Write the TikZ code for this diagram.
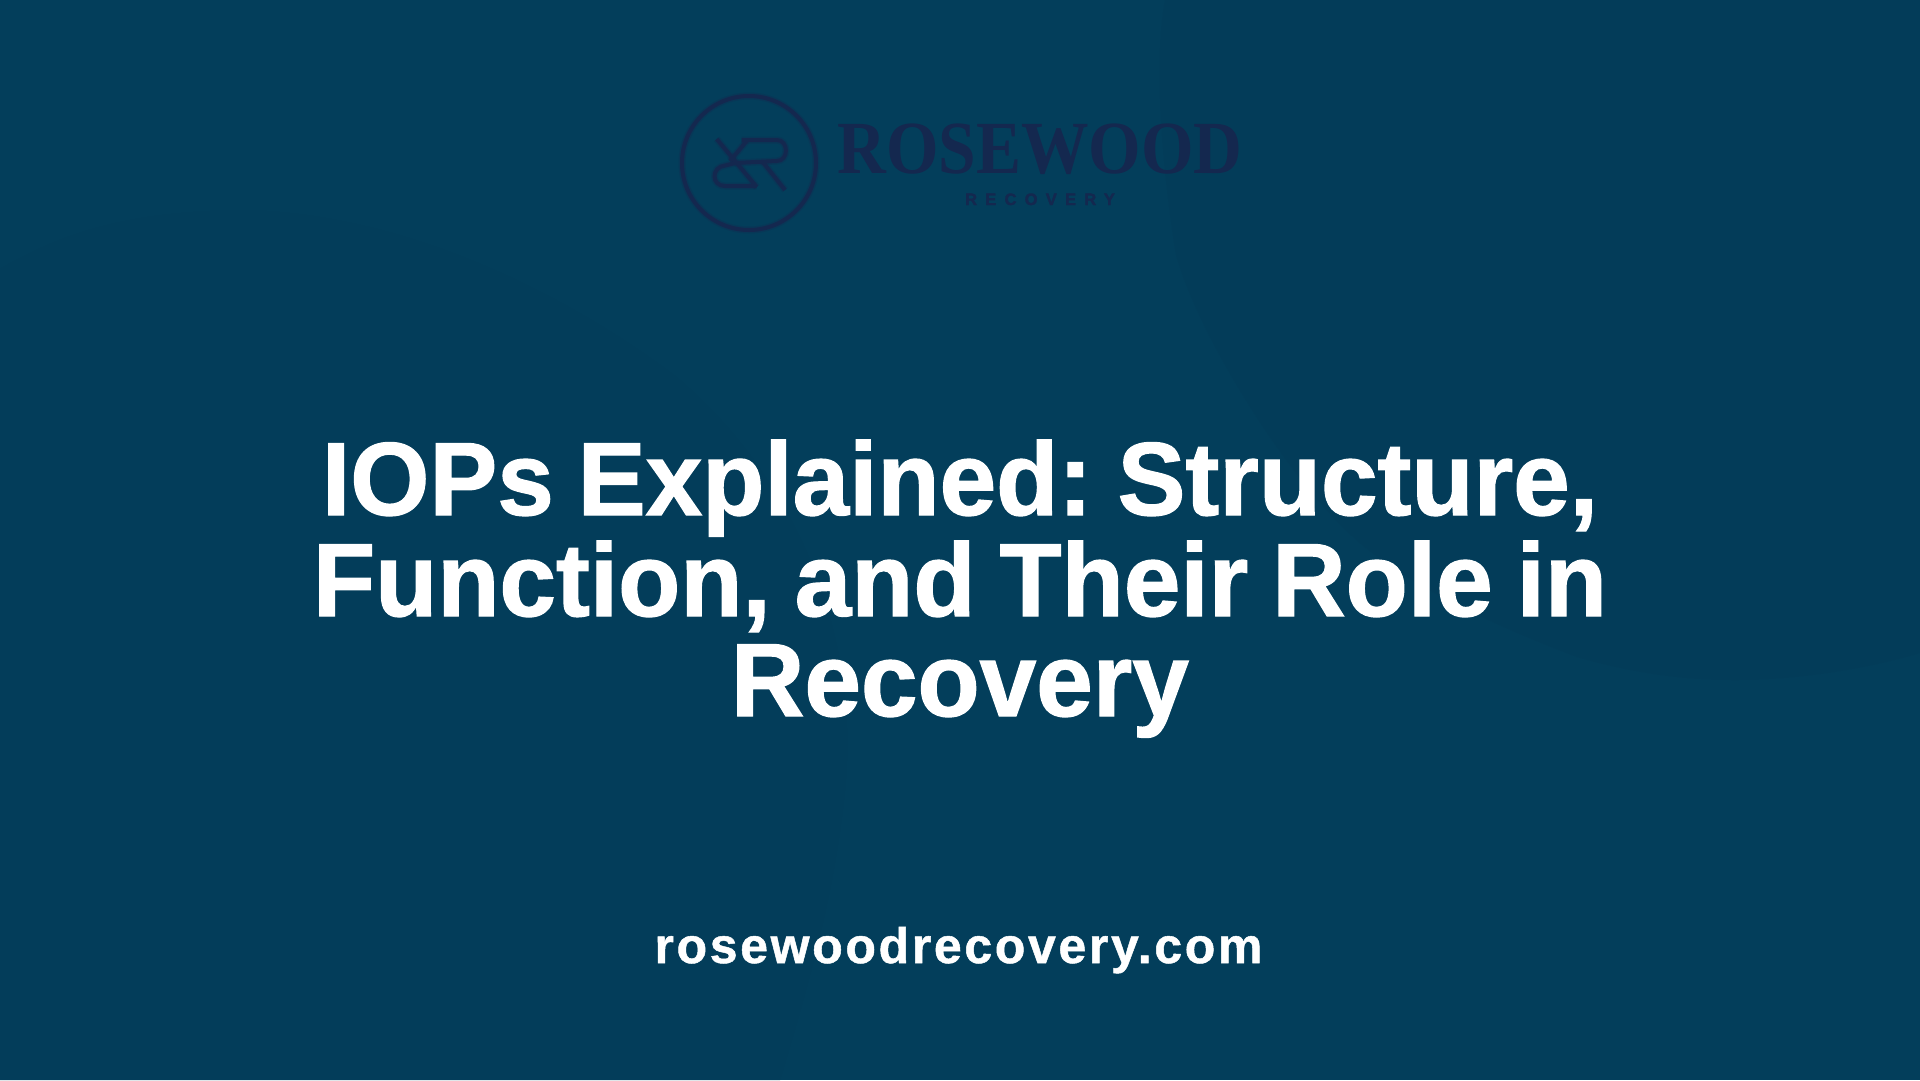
\documentclass[tikz,border=0pt]{standalone}
\usepackage{fontspec}
\setmainfont{Liberation Sans}
\newfontfamily\titlefont[FakeStretch=0.978,WordSpace=0.85,BoldFeatures={FakeBold=1.2}]{Liberation Sans}
\newfontfamily\urlfont[LetterSpace=5.3,BoldFeatures={FakeBold=1}]{Liberation Sans}
\newfontfamily\logofont[FakeStretch=0.9]{Liberation Serif}
\newfontfamily\subfont[LetterSpace=50,BoldFeatures={FakeBold=2}]{Liberation Sans}
\definecolor{bgmain}{HTML}{033E5B}
\definecolor{bgdark}{HTML}{033C59}
\definecolor{bglight}{HTML}{033D5A}
\definecolor{logonavy}{HTML}{14284F}
\tikzset{
  titleline/.style={text=white,inner sep=0pt,anchor=base,font=\titlefont\bfseries\fontsize{104}{104}\selectfont},
  logostroke/.style={draw=logonavy,line width=4pt,line cap=butt,line join=round},
  logohalo/.style={draw=logonavy,line width=7pt,line cap=butt,line join=round,opacity=0.3},
}
\begin{document}
\begin{tikzpicture}[x=1pt,y=-1pt]
\useasboundingbox (0,0) rectangle (1920,1080);
\fill[bgmain] (0,0) rectangle (1920,1080);
\fill[bglight] (0,269) .. controls (60,235) and (120,212) .. (240,210) .. controls (400,212) and (560,290) .. (674,375) .. controls (800,480) and (860,640) .. (845,790) .. controls (835,890) and (810,980) .. (780,1080) -- (0,1080) -- cycle;
\fill[bgdark] (1165,0) .. controls (1150,80) and (1170,220) .. (1176,255) .. controls (1200,340) and (1290,480) .. (1352,536) .. controls (1400,580) and (1480,620) .. (1577,657) .. controls (1640,675) and (1690,680) .. (1735,680) .. controls (1800,680) and (1870,668) .. (1920,653) -- (1920,0) -- cycle;
\foreach \logostyle in {logohalo,logostroke}{
  \draw[\logostyle] (749,163) circle[radius=67pt];
  \draw[\logostyle] (716.7,139) -- (756.7,187);
  \draw[\logostyle] (741.7,140) -- (776.7,140) .. controls (789,140) and (789,161) .. (776.7,161) -- (735,163) -- (725,165.5) .. controls (711,167) and (711,186) .. (725,186) -- (756.7,186);
  \draw[\logostyle] (746.7,141) -- (730,161);
  \draw[\logostyle] (763,162.3) -- (785,190);
}
\node[text=logonavy,inner sep=0pt,anchor=base,font=\logofont\bfseries\fontsize{75}{75}\selectfont] (brand) at (1040,173) {ROSEWOOD};
\node[text=logonavy,inner sep=0pt,anchor=base,font=\subfont\bfseries\fontsize{16.5}{16.5}\selectfont] (sub) at (1040,205) {RECOVERY};
\node[titleline] (t1) at (960,515) {IOPs Explained:\kern-8pt{} Structure,};
\node[titleline] (t2) at (960,616) {Function, and Their Role in};
\node[titleline] (t3) at (960,716) {Recovery};
\node[text=white,inner sep=0pt,anchor=base,font=\urlfont\bfseries\fontsize{50}{50}\selectfont] (url) at (958.5,963) {rosewoodrecovery.com};
\end{tikzpicture}
\end{document}
